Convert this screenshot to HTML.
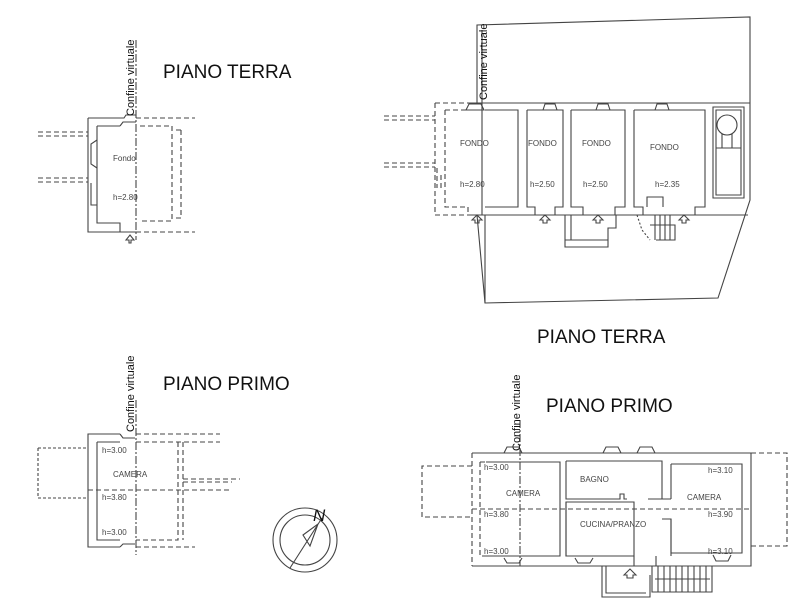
<!DOCTYPE html>
<html><head><meta charset="utf-8"><style>
html,body{margin:0;padding:0;background:#fff}
svg{display:block}
text{font-family:"Liberation Sans",sans-serif;fill:#333}
.t{font-size:19px;fill:#111}
.s{font-size:8px;fill:#444}
.c{font-size:11px;fill:#111}
</style></head><body>
<svg width="800" height="615" viewBox="0 0 800 615" xmlns="http://www.w3.org/2000/svg">
<g fill="none" stroke="#444" stroke-width="1.1">

<!-- ===== TOP LEFT PIANO TERRA ===== -->
<path d="M88,118 H120 M88,118 V232 H136 M97,126 V223 H120 V232"/>
<path d="M97,126 H120"/>
<path d="M120,118 h4 l2,-3 h10 M120,126 l3,-4 h13"/>
<path d="M97,140 l-6,4 v20 l6,4 M91,183 v22 h6"/>
<g stroke-dasharray="5,3">
<path d="M136,118 H195 M136,232 H195 M140,126 H172 V221 H140 M181,130 V218 M176,130 H181 M176,218 H181"/>
<path d="M38,132 H88 M38,136 H88 M38,178 H88 M38,182 H88"/>
</g>
<path d="M136,40 V240" stroke-dasharray="8,2,2,2"/>
<path d="M126,240 l4,-5 l4,5 h-3 v3 h-2 v-3 z"/>

<!-- ===== TOP RIGHT PIANO TERRA ===== -->
<path d="M477,103 V25 L750,17 V200 L718,298 L485,303 L477,215"/>
<path d="M468,103 H750 M468,215 H748 M485,215 V303"/>
<path d="M485,110 H518 V207 H485"/>
<path d="M527,110 H563 V207 H555 V215 M527,110 V207 H535 V215"/>
<path d="M571,110 H625 V207 H615 V215 M571,110 V207 H583 V215"/>
<path d="M634,110 H705 V207 H695 V215 M634,110 V207 H643 V215 M647,207 v-10 h16 v10"/>
<path d="M713,107 H744 V198 H713 Z M716,148 H741 M716,110 H741 V195 H716 Z"/>
<circle cx="727" cy="125" r="10"/>
<path d="M722,134 v14 M732,134 v14"/>
<path d="M565,215 V247 H608 V228 H616 V215 M571,215 V240 H608 M565,240 h6"/>
<path d="M650,225 H675 V240 H656 M655,215 V240 M660,215 V240 M665,215 V240 M670,215 V240"/>
<path d="M637,215 l5,15 l8,10" stroke-dasharray="2,2"/>
<path d="M466,110 l3,-6 h12 l3,6 Z M543,110 l2,-6 h10 l2,6 Z M596,110 l2,-6 h10 l2,6 Z M655,110 l2,-6 h10 l2,6 Z"/>
<g stroke-dasharray="5,3">
<path d="M435,103 H468 M435,103 V215 H468 M445,110 H480 M445,110 V207 H468 V215"/>
<path d="M384,116 H435 M384,120 H435 M384,163 H435 M384,167 H435 M437,168 v20 M441,175 v15"/>
</g>
<path d="M482,30 V215"/>
<path d="M472,220 l5,-5 l5,5 h-3 v3 h-4 v-3 z M540,220 l5,-5 l5,5 h-3 v3 h-4 v-3 z M593,220 l5,-5 l5,5 h-3 v3 h-4 v-3 z M679,220 l5,-5 l5,5 h-3 v3 h-4 v-3 z"/>

<!-- ===== BOTTOM LEFT PIANO PRIMO ===== -->
<path d="M120,434 H88 V547 H120 M97,442 V540 H120 M97,442 H120"/>
<path d="M120,434 l3,4 h12 M120,547 l3,-3 h12"/>
<g stroke-dasharray="5,3">
<path d="M136,434 H220 M136,547 H195 M136,442 H220 M178,442 V540 H136 M183,442 V540 M183,479 H240 M183,482 H232"/>
<path d="M88,490 H232" />
</g>
<path d="M38,448 H88 M38,448 V498 H88" stroke-dasharray="3,2"/>
<path d="M136,400 V555" stroke-dasharray="8,2,2,2"/>

<circle cx="305" cy="540" r="32"/>
<circle cx="305" cy="540" r="25"/>
<path d="M290,568 L322,518 M303,535 L318,524 L310,546 Z"/>

<!-- ===== BOTTOM RIGHT PIANO PRIMO ===== -->
<path d="M472,453 H751 V566 H472"/>
<path d="M486,462 H560 V556 H486 M560,503 v10 M560,540 v16"/>
<path d="M566,461 H662 V499 M566,461 V499 H620 v-5 h4 v5 h3 M648,499 h14 M566,502 H634 V556 H566 Z"/>
<path d="M566,502 V556 H596 M620,556 H634 M634,556 V566 M656,556 V566"/>
<path d="M662,499 h9 M662,519 h9 V556"/>
<path d="M671,464 H742 V553 H671 V519 M671,464 V499"/>
<path d="M602,566 V597 H650 V575 M606,566 V593 H646"/>
<path d="M652,566 V592 H712 V566 M658,566 V592 M664,566 V592 M670,566 V592 M676,566 V592 M682,566 V592 M688,566 V592 M694,566 V592 M700,566 V592 M706,566 V592 M655,579 H710"/>
<path d="M504,453 l3,-6 h12 l3,6 M603,453 l3,-6 h12 l3,6 M637,453 l3,-6 h12 l3,6 M504,558 l3,5 h12 l3,-5 M575,558 l3,5 h12 l3,-5 M713,555 l3,6 h12 l3,-6"/>
<g stroke-dasharray="5,3">
<path d="M472,453 V566 M472,466 H422 V517 H472 M480,462 V556 H486 M480,462 H486 M472,509 H752 M751,453 H787 V546 H751"/>
</g>
<path d="M520,420 V566" stroke-dasharray="8,2,2,2"/>
<path d="M624,575 l6,-6 l6,6 h-3 v3 h-6 v-3 z"/>
</g>

<text class="t" x="163" y="78">PIANO TERRA</text>
<text class="t" x="537" y="343">PIANO TERRA</text>
<text class="t" x="163" y="390">PIANO PRIMO</text>
<text class="t" x="546" y="412">PIANO PRIMO</text>

<text class="c" transform="translate(134,116) rotate(-90)">Confine virtuale</text>
<text class="c" transform="translate(487,100) rotate(-90)">Confine virtuale</text>
<text class="c" transform="translate(134,432) rotate(-90)">Confine virtuale</text>
<text class="c" transform="translate(520,451) rotate(-90)">Confine virtuale</text>

<text class="s" x="113" y="161">Fondo</text>
<text class="s" x="113" y="200">h=2.80</text>
<text class="s" x="460" y="146">FONDO</text>
<text class="s" x="528" y="146">FONDO</text>
<text class="s" x="582" y="146">FONDO</text>
<text class="s" x="650" y="150">FONDO</text>
<text class="s" x="460" y="187">h=2.80</text>
<text class="s" x="530" y="187">h=2.50</text>
<text class="s" x="583" y="187">h=2.50</text>
<text class="s" x="655" y="187">h=2.35</text>

<text class="s" x="102" y="453">h=3.00</text>
<text class="s" x="113" y="477">CAMERA</text>
<text class="s" x="102" y="500">h=3.80</text>
<text class="s" x="102" y="535">h=3.00</text>

<text class="s" x="484" y="470">h=3.00</text>
<text class="s" x="506" y="496">CAMERA</text>
<text class="s" x="484" y="517">h=3.80</text>
<text class="s" x="484" y="554">h=3.00</text>
<text class="s" x="580" y="482">BAGNO</text>
<text class="s" x="580" y="527">CUCINA/PRANZO</text>
<text class="s" x="687" y="500">CAMERA</text>
<text class="s" x="708" y="473">h=3.10</text>
<text class="s" x="708" y="517">h=3.90</text>
<text class="s" x="708" y="554">h=3.10</text>
<text x="313" y="521" style="font-size:17px;font-style:italic;fill:#111">N</text>
</svg>
</body></html>
